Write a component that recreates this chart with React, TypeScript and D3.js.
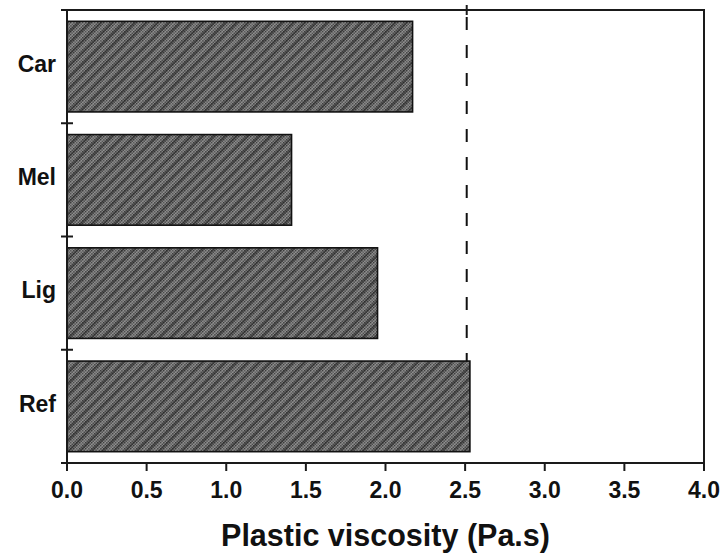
import React from "react";
import * as d3 from "d3";

// values
const categories = ["Car", "Mel", "Lig", "Ref"];
const viscosity = [2.17, 1.41, 1.95, 2.53];
const xTicks = [0, 0.5, 1.0, 1.5, 2.0, 2.5, 3.0, 3.5, 4.0];
const limitValue = [2.51];

const W = 726;
const H = 556;
const margin = { top: 10, right: 22, bottom: 93, left: 67 };
const FONT = "'Liberation Sans', Arial, Helvetica, sans-serif";

export default function App() {
  const innerW = W - margin.left - margin.right;
  const innerH = H - margin.top - margin.bottom;

  const x = d3.scaleLinear().domain([0, 4]).range([0, innerW]);
  const y = d3
    .scaleBand()
    .domain(categories)
    .range([0, innerH])
    .paddingInner(0.2)
    .paddingOuter(0.1);

  const step = y.step();
  const boundaries = d3.range(categories.length + 1).map((i) => i * step);

  return (
    <svg
      width={W}
      height={H}
      style={{ position: "absolute", left: 0, top: 0, background: "#fff" }}
    >
      <defs>
        <pattern id="dots" width="3" height="3" patternUnits="userSpaceOnUse">
          <rect width="3" height="3" fill="#858585" />
          <rect width="1.5" height="1.5" fill="#3c3c3c" />
          <rect x="1.5" y="1.5" width="1.5" height="1.5" fill="#4a4a4a" />
        </pattern>
        <pattern
          id="diag"
          width="8"
          height="8"
          patternUnits="userSpaceOnUse"
          patternTransform="rotate(45)"
        >
          <line x1="1" y1="0" x2="1" y2="8" stroke="#1e1e1e" strokeWidth="1.3" strokeOpacity="0.8" />
          <line x1="5" y1="0" x2="5" y2="8" stroke="#b0b0b0" strokeWidth="0.9" strokeOpacity="0.6" />
        </pattern>
      </defs>
      <g transform={`translate(${margin.left},${margin.top})`}>
        {/* dashed reference line, behind the bars */}
        {limitValue.map((v) => (
          <line
            key={"lim" + v}
            x1={x(v)}
            x2={x(v)}
            y1={0}
            y2={innerH}
            stroke="#111"
            strokeWidth={2}
            strokeDasharray="13,15"
            strokeDashoffset={-7}
          />
        ))}

        {categories.map((c, i) => (
          <g key={c}>
            <rect
              x={0}
              y={y(c)}
              width={x(viscosity[i])}
              height={y.bandwidth()}
              fill="url(#dots)"
            />
            <rect
              x={0}
              y={y(c)}
              width={x(viscosity[i])}
              height={y.bandwidth()}
              fill="url(#diag)"
              stroke="#111"
              strokeWidth={1.6}
            />
            <text
              x={-11}
              y={(y(c) as number) + y.bandwidth() / 2 - 3}
              dy="0.36em"
              textAnchor="end"
              fontFamily={FONT}
              fontWeight="bold"
              fontSize={23}
              fill="#111"
            >
              {c}
            </text>
          </g>
        ))}

        {/* frame */}
        <rect x={0} y={0} width={innerW} height={innerH} fill="none" stroke="#1a1a1a" strokeWidth={2} />

        {/* left ticks at band boundaries */}
        {boundaries.map((b, i) => (
          <line key={"lt" + i} x1={-6} x2={6} y1={b} y2={b} stroke="#1a1a1a" strokeWidth={2} />
        ))}

        {/* top tick at reference line */}
        {limitValue.map((v) => (
          <line key={"tt" + v} x1={x(v)} x2={x(v)} y1={-5} y2={5} stroke="#1a1a1a" strokeWidth={2} />
        ))}

        {/* bottom axis */}
        {xTicks.map((t) => (
          <g key={"bt" + t} transform={`translate(${x(t)},${innerH})`}>
            <line y1={0} y2={8} stroke="#1a1a1a" strokeWidth={2} />
            <text
              y={35}
              textAnchor="middle"
              fontFamily={FONT}
              fontWeight="bold"
              fontSize={23}
              fill="#111"
            >
              {t.toFixed(1)}
            </text>
          </g>
        ))}

        <text
          x={innerW / 2}
          y={innerH + 83}
          textAnchor="middle"
          fontFamily={FONT}
          fontWeight="bold"
          fontSize={30.5}
          fill="#111"
        >
          Plastic viscosity (Pa.s)
        </text>
      </g>
    </svg>
  );
}
